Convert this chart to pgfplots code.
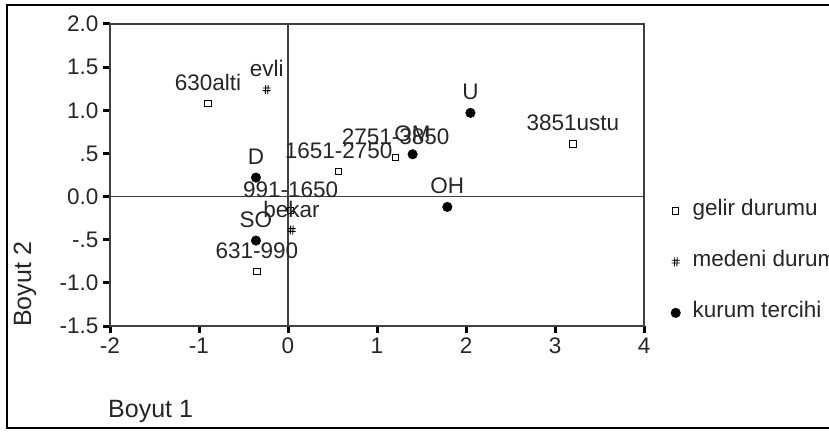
\documentclass[border=0pt]{standalone}
\usepackage{fontspec}
\setmainfont{Liberation Sans}
\usepackage{pgfplots}
\pgfplotsset{compat=1.18}
\usepackage{pgfplotstable}

\pgfdeclareplotmark{hashmark}{%
  \pgfpathmoveto{\pgfqpoint{-0.9\pgfplotmarksize}{0.35\pgfplotmarksize}}%
  \pgfpathlineto{\pgfqpoint{0.9\pgfplotmarksize}{0.35\pgfplotmarksize}}%
  \pgfpathmoveto{\pgfqpoint{-0.9\pgfplotmarksize}{-0.25\pgfplotmarksize}}%
  \pgfpathlineto{\pgfqpoint{0.9\pgfplotmarksize}{-0.25\pgfplotmarksize}}%
  \pgfpathmoveto{\pgfqpoint{-0.3\pgfplotmarksize}{-\pgfplotmarksize}}%
  \pgfpathlineto{\pgfqpoint{-0.2\pgfplotmarksize}{\pgfplotmarksize}}%
  \pgfpathmoveto{\pgfqpoint{0.25\pgfplotmarksize}{-\pgfplotmarksize}}%
  \pgfpathlineto{\pgfqpoint{0.35\pgfplotmarksize}{\pgfplotmarksize}}%
  \pgfusepathqstroke}

\pgfplotstableread{
x y label
-0.90 1.08 630alti
0.03 -0.16 991-1650
0.57 0.29 1651-2750
1.21 0.45 2751-3850
3.20 0.61 3851ustu
-0.35 -0.87 631-990
}\gelir

\pgfplotstableread{
x y label
-0.24 1.24 evli
0.04 -0.39 bekar
}\medeni

\pgfplotstableread{
x y label
-0.36 0.22 D
-0.36 -0.51 SO
1.40 0.49 OM
2.05 0.97 U
1.79 -0.12 OH
}\kurum

\definecolor{axgray}{HTML}{404040}
\definecolor{txtgray}{HTML}{262626}

\begin{document}
\begin{tikzpicture}[x=1pt,y=1pt]
\useasboundingbox (0,0) rectangle (829,431);
\begin{scope}
\clip (0,0) rectangle (829,431);
\draw[line width=2.5pt, black] (7,3) rectangle (845,426);
\end{scope}
\node[anchor=base west, font=\fontsize{25}{29}\selectfont, text=txtgray, inner sep=0pt] at (108,14) {Boyut 1};
\node[anchor=base west, rotate=90, font=\fontsize{25}{29}\selectfont, text=txtgray, inner sep=0pt] at (31,104) {Boyut 2};
\begin{axis}[
  at={(110pt,105pt)}, anchor=south west,
  scale only axis, width=534pt, height=302pt,
  xmin=-2, xmax=4, ymin=-1.5, ymax=2,
  axis line style={axgray, line width=1.4pt},
  xtick={-2,-1,0,1,2,3,4},
  xticklabels={-2,-1,0,1,2,3,4},
  ytick={-1.5,-1,-0.5,0,0.5,1,1.5,2},
  yticklabels={-1.5,-1.0,-.5,0.0,.5,1.0,1.5,2.0},
  xtick pos=left, ytick pos=left,
  tick align=outside,
  major tick length=7pt,
  tick style={black, line width=3pt},
  ticklabel style={font=\fontsize{22.5}{26}\selectfont, text=txtgray},
  xticklabel style={yshift=-1pt},
  yticklabel style={xshift=-1pt},
  clip=false,
  nodes near coords,
  point meta=explicit symbolic,
  every node near coord/.style={anchor=base, yshift=13pt, inner sep=0pt, font=\fontsize{22.5}{26}\selectfont, text=txtgray},
  legend cell align=left,
  legend image code/.code={\draw[#1] plot coordinates {(0pt,0pt)};},
  legend style={at={(axis description cs:1.050,0.415)}, anchor=north west, draw=none, fill=none,
    font=\fontsize{22.5}{26}\selectfont, text=txtgray, row sep=31pt, inner sep=0pt,
    nodes={inner sep=0pt, text height=15pt, text depth=5pt},
    column sep=12pt},
]
\draw[axgray, line width=1.4pt] (axis cs:0,-1.5) -- (axis cs:0,2);
\draw[axgray, line width=1.4pt] (axis cs:-2,0) -- (axis cs:4,0);
\addplot[only marks, mark=square, mark size=3.2pt, mark options={black, line width=1pt, fill=white}] table[x=x, y=y, meta=label] {\gelir};
\addlegendentry{gelir durumu}
\addplot[only marks, mark=hashmark, mark size=4.5pt, mark options={black, line width=0.9pt}] table[x=x, y=y, meta=label] {\medeni};
\addlegendentry{medeni durum}
\addplot[only marks, mark=*, mark size=4.8pt, mark options={black, fill=black}] table[x=x, y=y, meta=label] {\kurum};
\addlegendentry{kurum tercihi}
\end{axis}
\end{tikzpicture}
\end{document}
